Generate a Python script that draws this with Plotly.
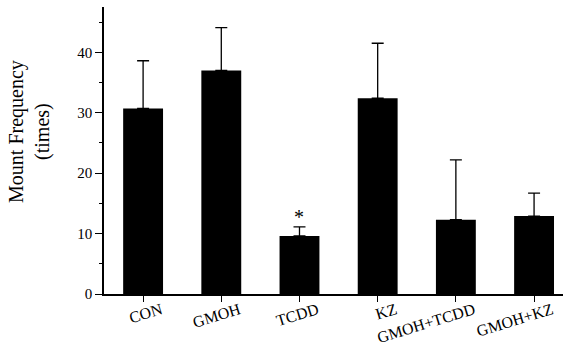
import plotly.graph_objects as go

categories = ["CON", "GMOH", "TCDD", "KZ", "GMOH+TCDD", "GMOH+KZ"]
means = [30.7, 37.0, 9.6, 32.4, 12.3, 12.9]
sems = [7.9, 7.1, 1.5, 9.1, 9.9, 3.8]
y_ticks = [0, 10, 20, 30, 40]
sig_marks = ["", "", "*", "", "", ""]
y_title = "Mount Frequency<br>(times)"

FONT = "Liberation Serif"

fig = go.Figure()
fig.add_trace(go.Bar(
    x=categories, y=means, width=0.51,
    marker=dict(color="black", line=dict(width=0)),
    error_y=dict(type="data", symmetric=False, array=sems,
                 arrayminus=[0] * len(sems),
                 color="black", thickness=1.3, width=6),
))

for c, m, s, t in zip(categories, means, sems, sig_marks):
    if t:
        fig.add_annotation(x=c, y=m + s, text=t, showarrow=False,
                           yanchor="bottom", yshift=-3,
                           font=dict(family=FONT, size=20, color="black"))

fig.add_annotation(
    xref="paper", yref="paper", x=-0.161, y=0.565, text=y_title,
    textangle=-90, showarrow=False, xanchor="center", yanchor="middle",
    font=dict(family=FONT, size=20, color="black"),
)

fig.update_layout(
    width=564, height=347,
    margin=dict(l=104, r=1, t=7, b=53, autoexpand=False),
    plot_bgcolor="white", paper_bgcolor="white",
    showlegend=False, bargap=0.49,
    font=dict(family=FONT, size=14, color="black"),
)
fig.update_xaxes(
    range=[-0.5, 5.37], showline=True, linecolor="black", linewidth=1.5,
    ticks="outside", ticklen=6, tickcolor="black", tickangle=-17,
    ticklabelshift=18, ticklabelstandoff=-7, automargin=False,
    tickfont=dict(family=FONT, size=16), showgrid=False, zeroline=False,
)
fig.update_yaxes(
    range=[0, 47.5], tickvals=y_ticks, showline=True, linecolor="black",
    linewidth=1.5, ticks="outside", ticklen=7, tickcolor="black",
    minor=dict(dtick=5, ticks="outside", ticklen=3, tickcolor="black"),
    tickfont=dict(family=FONT, size=15), showgrid=False, zeroline=False,
    automargin=False,
)

fig.write_html("out.html")
